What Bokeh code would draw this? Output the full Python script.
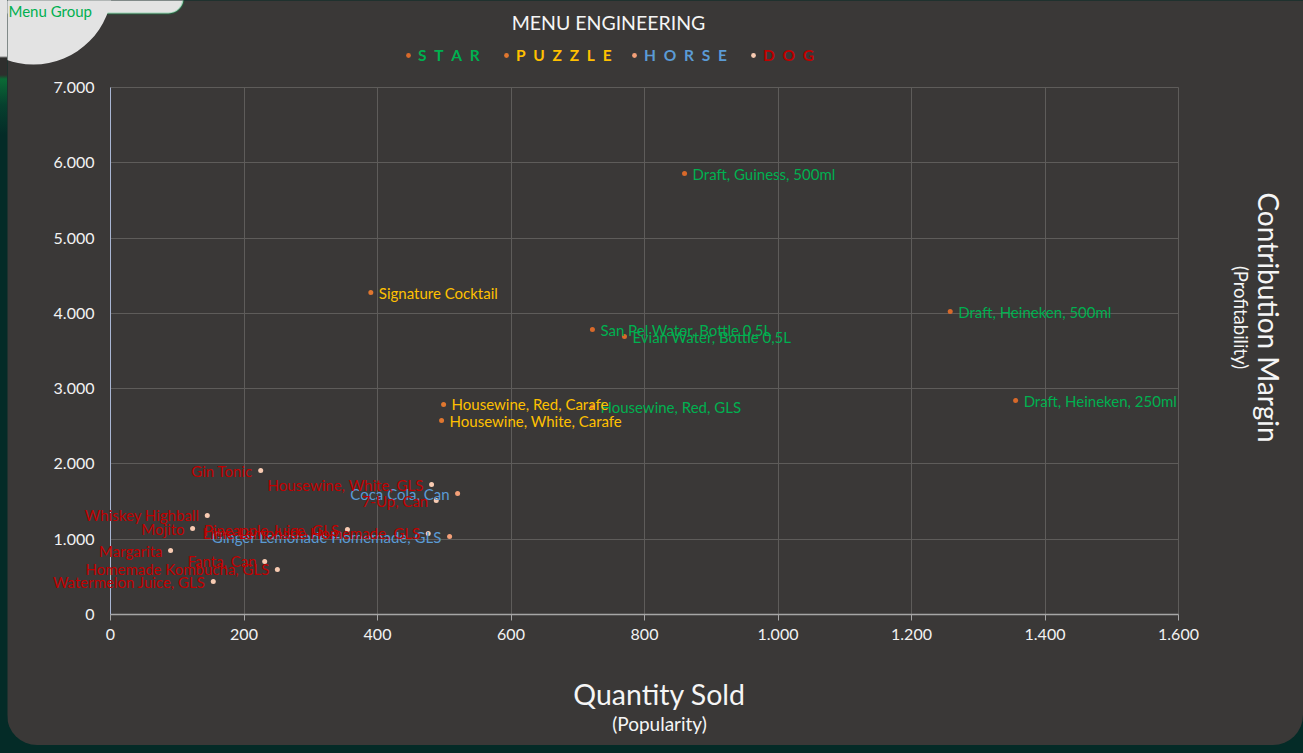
from bokeh.plotting import figure
from bokeh.models import (ColumnDataSource, LabelSet, Label, Range1d, FixedTicker,
                          CustomJSTickFormatter, Legend, LegendItem, BoxAnnotation, Spacer)
from bokeh.layouts import row, column
from bokeh.core.properties import value
from bokeh.embed import file_html
from bokeh.resources import INLINE

# ---------------- data ----------------
star_names = ["Draft, Guiness, 500ml", "Draft, Heineken, 500ml", "Draft, Heineken, 250ml",
              "San Pel Water, Bottle 0,5L", "Evian Water, Bottle 0,5L", "Housewine, Red, GLS"]
star_qty = [860, 1258, 1356, 722, 770, 722]
star_margin = [5857, 4024, 2842, 3785, 3692, 2760]

puzzle_names = ["Signature Cocktail", "Housewine, Red, Carafe", "Housewine, White, Carafe"]
puzzle_qty = [390, 499, 496]
puzzle_margin = [4276, 2790, 2576]

horse_names = ["Coca Cola, Can", "Ginger Lemonade Homemade, GLS"]
horse_qty = [520, 508]
horse_margin = [1607, 1036]

dog_names = ["Gin Tonic", "Housewine, White, GLS", "7-Up, Can", "Whiskey Highball", "Mojito",
             "Pineapple Juice, GLS", "Lime Lemonade Homemade, GLS", "Margarita", "Fanta, Can",
             "Homemade Kombucha, GLS", "Watermelon Juice, GLS"]
dog_qty = [225, 481, 488, 145, 123, 355, 476, 90, 231, 250, 154]
dog_margin = [1912, 1726, 1514, 1315, 1142, 1129, 1076, 850, 704, 598, 438]

x_ticks = [0, 200, 400, 600, 800, 1000, 1200, 1400, 1600]
y_ticks = [0, 1000, 2000, 3000, 4000, 5000, 6000, 7000]

legend_names = ["S\u2002T\u2002A\u2002R", "P\u2002U\u2002Z\u2002Z\u2002L\u2002E",
                "H\u2002O\u2002R\u2002S\u2002E", "D\u2002O\u2002G"]

# ---------------- style ----------------
BG = "#3a3837"
OUTER = "#042b27"
GRID = "#5e5c5a"
FONT = "Lato"

groups = [
    # names, qty, margin, dot colour, text colour, side
    (star_names, star_qty, star_margin, "#d8692a", "#00b050", "right"),
    (puzzle_names, puzzle_qty, puzzle_margin, "#e0772f", "#ffc000", "right"),
    (horse_names, horse_qty, horse_margin, "#f4a078", "#5b9bd5", "left"),
    (dog_names, dog_qty, dog_margin, "#f8cbb2", "#c00000", "left"),
]

# frame covers the whole canvas; the axes sit at x=0 / y=0 via fixed_location
W, H = 1296, 745
PX_X = 1068 / 1600.0        # pixels per unit of quantity
PX_Y = 527 / 7000.0         # pixels per unit of margin
X0 = 103                    # canvas x of quantity 0
Y0 = 745 - 614              # canvas height below margin 0
x_range = Range1d(-X0 / PX_X, (W - X0) / PX_X)
y_range = Range1d(-Y0 / PX_Y, (H - Y0) / PX_Y)

p = figure(width=W, height=H, output_backend="svg", toolbar_location=None,
           x_range=x_range, y_range=y_range, min_border=0,
           min_border_left=0, min_border_right=0, min_border_top=0, min_border_bottom=0,
           background_fill_color=BG, border_fill_color=BG, outline_line_color=None)

fmt = CustomJSTickFormatter(code="""
    const s = Math.round(tick).toString();
    return s.replace(/\\B(?=(\\d{3})+(?!\\d))/g, '.');
""")

p.xaxis.ticker = FixedTicker(ticks=x_ticks)
p.yaxis.ticker = FixedTicker(ticks=y_ticks)
p.xaxis.formatter = fmt
p.yaxis.formatter = fmt
p.xaxis.fixed_location = 0
p.yaxis.fixed_location = 0
p.xaxis.bounds = (x_ticks[0], x_ticks[-1])
p.yaxis.bounds = (y_ticks[0], y_ticks[-1])
for ax in (p.xaxis, p.yaxis):
    ax.major_label_text_font = FONT
    ax.major_label_text_font_size = "16px"
    ax.major_label_text_color = "#f2f2f2"
    ax.minor_tick_line_color = None
    ax.major_tick_in = 0
p.xaxis.axis_line_color = "#a6a6a6"
p.xaxis.axis_line_width = 1.5
p.xaxis.major_tick_line_color = "#a6a6a6"
p.xaxis.major_tick_out = 6
p.xaxis.major_label_standoff = 8
p.yaxis.axis_line_color = "#a9b6d3"
p.yaxis.major_tick_line_color = None
p.yaxis.major_tick_out = 0
p.yaxis.major_label_standoff = 16
p.xgrid.ticker = FixedTicker(ticks=x_ticks)
p.ygrid.ticker = FixedTicker(ticks=y_ticks)
p.xgrid.cross_bounds = (y_ticks[0], y_ticks[-1])
p.ygrid.cross_bounds = (x_ticks[0], x_ticks[-1])
p.grid.grid_line_color = GRID
p.grid.grid_line_width = 1

renderers = []
for names, qty, margin, dot_c, txt_c, side in groups:
    src = ColumnDataSource(dict(x=qty, y=margin, name=names))
    r = p.scatter("x", "y", source=src, size=5, fill_color=dot_c, line_color=None)
    renderers.append(r)
    ls = LabelSet(x="x", y="y", text="name", source=src,
                  x_offset=8 if side == "right" else -8, y_offset=0,
                  text_align="left" if side == "right" else "right",
                  text_baseline="middle", text_font=value(FONT),
                  text_font_size=value("15px"), text_color=txt_c)
    p.add_layout(ls)

# legend (one per group so each label keeps its own colour)
legend_x = [395, 493, 621, 740]
for (names, qty, margin, dot_c, txt_c, side), r, lab, lx in zip(groups, renderers, legend_names, legend_x):
    lg = Legend(items=[LegendItem(label=value(lab), renderers=[r])], location=(lx, 680),
                orientation="horizontal", glyph_width=12, glyph_height=20, label_height=20,
                label_standoff=4, padding=0, margin=0, spacing=0,
                border_line_color=None, background_fill_alpha=0,
                label_text_color=txt_c, label_text_font=FONT,
                label_text_font_style="bold", label_text_font_size="15.5px")
    p.add_layout(lg)

# titles
def lab(x, y, text, size, angle=0.0, color="#f5f5f5", style="normal", align="center"):
    p.add_layout(Label(x=x, y=y, x_units="screen", y_units="screen", text=text,
                       text_align=align, text_baseline="middle", text_color=color,
                       text_font=FONT, text_font_size=size, text_font_style=style, angle=angle))

lab(601, 723, "MENU ENGINEERING", "19.5px")
lab(652, 52, "Quantity Sold", "28.5px")
lab(652, 22, "(Popularity)", "19px")
lab(1261, 428, "Contribution Margin", "28px", angle=-1.5707963)
lab(1233, 428, "(Profitability)", "18.5px", angle=-1.5707963)

# "Menu Group" tab in the corner
p.add_layout(BoxAnnotation(left=-27, right=176, bottom=732, top=765,
                           left_units="screen", right_units="screen",
                           bottom_units="screen", top_units="screen",
                           fill_color="#e3e3e3", fill_alpha=1, line_color="#00b050",
                           line_width=2, border_radius=15))
p.add_layout(BoxAnnotation(left=-53, right=105, bottom=681, top=839,
                           left_units="screen", right_units="screen",
                           bottom_units="screen", top_units="screen",
                           fill_color="#e3e3e3", fill_alpha=1, line_color=None,
                           border_radius=79))
lab(1, 735, "Menu Group", "15px", color="#00b050", align="left")

p.styles = {"border-bottom-left-radius": "30px", "border-bottom-right-radius": "30px",
            "overflow": "hidden"}

left_strip = Spacer(width=7, height=745, styles={
    "background": "linear-gradient(to bottom, #e3e3e3 0px, #e3e3e3 56px, #2e2e2d 58px, "
                  "#2e2e2d 75px, #0b6a35 79px, #06402e 105px, #042b27 135px)"})
page = column(row(left_strip, p, spacing=0), Spacer(width=1303, height=8),
              spacing=0, styles={"background-color": OUTER})

open("out.html", "w").write(file_html(page, INLINE))
